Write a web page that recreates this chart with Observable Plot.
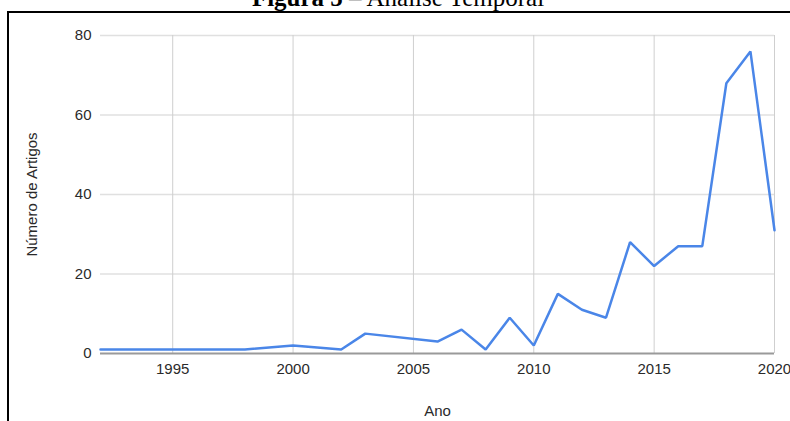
<!DOCTYPE html>
<html>
<head>
<meta charset="utf-8">
<script src="https://cdn.jsdelivr.net/npm/d3@7"></script>
<script src="https://cdn.jsdelivr.net/npm/@observablehq/plot@0.6"></script>
<style>
  html, body { margin: 0; padding: 0; background: #fff; overflow: hidden; }
  #wrap { position: relative; width: 790px; height: 421px; overflow: hidden; }
  #title { position: absolute; left: 0; width: 796px; top: -16px; text-align: center;
           font-family: "Liberation Serif", "Times New Roman", serif; font-size: 25px; line-height: 28px; color: #000; white-space: nowrap; }
  #frame { position: absolute; left: 7px; top: 11px; width: 900px; height: 600px; border: 2px solid #000; box-sizing: border-box; background: #fff; }
  #chart { position: absolute; left: 0; top: 0; }
</style>
</head>
<body>
<div id="wrap">
  <div id="title"><b>Figura 5</b> – Análise Temporal</div>
  <div id="frame"></div>
  <div id="chart"></div>
</div>
<script>
const years  = [1992, 1993, 1994, 1995, 1996, 1997, 1998, 2000, 2002, 2003, 2006, 2007, 2008, 2009, 2010, 2011, 2012, 2013, 2014, 2015, 2016, 2017, 2018, 2019, 2020];
const counts = [1, 1, 1, 1, 1, 1, 1, 2, 1, 5, 3, 6, 1, 9, 2, 15, 11, 9, 28, 22, 27, 27, 68, 76, 31];
const xTicks = [1995, 2000, 2005, 2010, 2015, 2020];
const yTicks = [0, 20, 40, 60, 80];
const xLabel = "Ano";
const yLabel = "Número de Artigos";

const data = years.map((y, i) => ({year: y, n: counts[i]}));

const chart = Plot.plot({
  width: 790,
  height: 421,
  marginLeft: 100,
  marginRight: 16,
  marginTop: 35,
  marginBottom: 68,
  style: {fontFamily: "'Liberation Sans', Arial, sans-serif", fontSize: "15px", color: "#333", background: "transparent"},
  x: {domain: [1992, 2020]},
  y: {domain: [0, 80]},
  marks: [
    Plot.gridY(yTicks.filter(d => d > 0), {stroke: "#e0e0e0", strokeOpacity: 1, strokeWidth: 1.5}),
    Plot.gridX(xTicks, {stroke: "#cfcfcf", strokeOpacity: 1, strokeWidth: 1}),
    Plot.ruleY([0], {stroke: "#9a9a9a", strokeWidth: 2}),
    Plot.axisY(yTicks, {tickSize: 0, tickPadding: 9, label: yLabel, labelArrow: false, labelAnchor: "center", labelOffset: 74, fill: "#2a2a2a", fontSize: 15}),
    Plot.axisX(xTicks, {tickSize: 0, tickPadding: 10, tickFormat: d => String(d), label: xLabel, labelArrow: false, labelAnchor: "center", labelOffset: 62, fill: "#2a2a2a", fontSize: 15}),
    Plot.line(data, {x: "year", y: "n", stroke: "#4a86e8", strokeWidth: 2.5, strokeLinejoin: "miter"})
  ]
});
document.getElementById("chart").appendChild(chart);
</script>
</body>
</html>
